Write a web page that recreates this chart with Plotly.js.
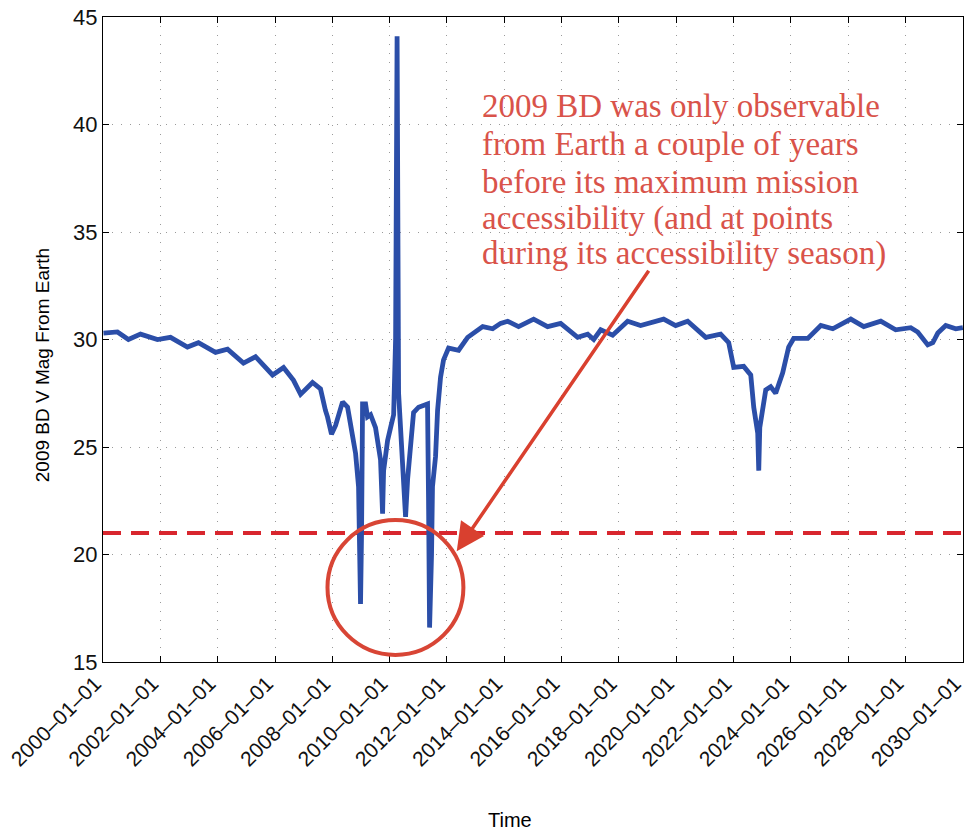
<!DOCTYPE html>
<html>
<head>
<meta charset="utf-8">
<script src="https://cdn.plot.ly/plotly-3.0.1.min.js"></script>
<style>html,body{margin:0;padding:0;background:#fff;}#chart{width:965px;height:835px;}</style>
</head>
<body>
<div id="chart"></div>
<script>
const dates = [
  "2000-01-07","2000-04-05","2000-07-03","2000-11-20","2001-04-23","2001-11-25",
  "2002-05-10","2002-12-12","2003-05-01","2003-12-05","2004-05-06","2004-11-25",
  "2005-04-28","2005-12-01","2006-04-20","2006-08-25","2006-11-23","2007-04-24",
  "2007-08-04","2007-10-06","2007-11-01","2007-12-22","2008-02-12","2008-05-11",
  "2008-07-14","2008-09-16","2008-10-24","2008-12-01","2008-12-13","2008-12-26",
  "2009-01-08","2009-01-21","2009-02-28","2009-03-25","2009-05-03","2009-07-05",
  "2009-09-07","2009-10-03","2009-10-16","2009-12-06","2010-01-13","2010-02-21",
  "2010-03-18","2010-04-06","2010-04-25","2010-05-20","2010-06-28","2010-07-23",
  "2010-08-18","2010-09-25","2010-11-02","2011-01-05","2011-04-29","2011-05-12",
  "2011-05-25","2011-06-19","2011-07-01","2011-08-09","2011-09-04","2011-10-12",
  "2011-11-19","2012-01-22","2012-05-29","2012-09-21","2013-04-01","2013-08-06",
  "2013-11-15","2014-02-13","2014-07-02","2015-01-10","2015-07-07","2015-12-20",
  "2016-07-24","2016-11-29","2017-02-14","2017-05-14","2017-10-13","2018-04-22",
  "2018-10-04","2019-07-25","2019-12-25","2020-05-26","2021-01-12","2021-07-20",
  "2021-10-31","2022-01-03","2022-05-10","2022-08-08","2022-09-15","2022-11-05",
  "2022-11-18","2022-12-01","2023-02-15","2023-04-19","2023-06-22","2023-09-19",
  "2023-12-04","2024-02-06","2024-08-04","2025-01-17","2025-06-18","2026-02-03",
  "2026-07-18","2027-02-20","2027-08-29","2028-03-08","2028-06-05","2028-10-11",
  "2028-12-14","2029-02-16","2029-05-28","2029-10-03","2030-01-01"
];
// V magnitude from Earth
const vMag = [
  30.3,30.35,30.35,30.0,30.25,30.0,
  30.1,29.65,29.85,29.4,29.55,28.9,
  29.2,28.35,28.7,28.1,27.45,28.0,
  27.7,26.7,26.4,25.6,26.0,27.1,
  26.85,25.5,24.7,23.15,21.3,17.7,
  21.0,27.0,27.0,26.4,26.5,25.9,
  24.4,21.9,23.9,25.3,25.9,26.5,
  30.0,44.1,27.5,26.1,23.15,21.75,
  23.5,25.3,26.6,26.85,27.0,22.5,
  16.6,20.0,23.15,24.55,26.7,28.25,
  29.05,29.6,29.5,30.1,30.6,30.5,
  30.75,30.85,30.6,30.95,30.6,30.75,
  30.1,30.25,30.0,30.45,30.2,30.85,
  30.65,30.95,30.65,30.85,30.1,30.25,
  29.85,28.7,28.75,28.35,26.85,25.65,
  23.9,25.9,27.65,27.8,27.5,28.45,
  29.65,30.05,30.05,30.65,30.5,30.95,
  30.6,30.85,30.45,30.55,30.35,29.75,
  29.85,30.3,30.65,30.5,30.55
];
// Observability limit
const limitMag = 21;
const limitDates = ["2000-01-01","2030-01-01"];

// Axis ticks
const xTickVals = ["2000-01-01","2002-01-01","2004-01-01","2006-01-01","2008-01-01","2010-01-01",
  "2012-01-01","2014-01-01","2016-01-01","2018-01-01","2020-01-01","2022-01-01",
  "2024-01-01","2026-01-01","2028-01-01","2030-01-01"];
const xTickText = ["2000–01–01","2002–01–01","2004–01–01","2006–01–01","2008–01–01","2010–01–01",
  "2012–01–01","2014–01–01","2016–01–01","2018–01–01","2020–01–01","2022–01–01",
  "2024–01–01","2026–01–01","2028–01–01","2030–01–01"];
const yTickVals = [15,20,25,30,35,40,45];

// Titles and note
const xTitle = "Time";
const yTitle = "2009 BD V Mag From Earth";
const noteLines = [
  "2009 BD was only observable",
  "from Earth a couple of years",
  "before its maximum mission",
  "accessibility (and at points",
  "during its accessibility season)"
];
const noteLineY = [40.85, 39.1, 37.33, 35.65, 33.98];
const noteX = "2013-02-20";
const circleX = ["2007-11-01","2012-07-29"];
const circleY = [15.33,21.6];
const arrowTip = ["2012-05-05", 20.15];

const traces = [
  {x: limitDates, y: [limitMag, limitMag], mode: "lines", type: "scatter",
   line: {color: "#D8262E", width: 4, dash: "18px,10px"}, hoverinfo: "skip"},
  {x: dates, y: vMag, mode: "lines", type: "scatter",
   line: {color: "#2B4EA8", width: 4.8}}
];

const axisCommon = {
  showline: true, linecolor: "#000", linewidth: 1, mirror: "ticks",
  ticks: "inside", ticklen: 6, tickcolor: "#000",
  showgrid: true, gridcolor: "#9a9a9a", gridwidth: 1, griddash: "1px,8px",
  zeroline: false, ticklabeloverflow: "allow"
};

const noteFont = {family: "Liberation Serif, Times New Roman, serif", size: 33, color: "#D9534A"};
const annotations = noteLines.map((t, i) => ({
  x: noteX, y: noteLineY[i], xref: "x", yref: "y", xanchor: "left", yanchor: "middle",
  align: "left", showarrow: false, text: t, font: noteFont
}));
annotations.push({x: arrowTip[0], y: arrowTip[1], xref: "x", yref: "y", text: "",
  showarrow: true, arrowhead: 2, arrowsize: 1.6, arrowwidth: 3.5, arrowcolor: "#D9402F",
  ax: 193, ay: -282});
annotations.push({x: -0.071, y: 0.46, xref: "paper", yref: "paper", text: yTitle,
  textangle: -90, showarrow: false, xanchor: "center", yanchor: "middle",
  font: {size: 19, color: "#000"}});
annotations.push({x: 0.473, y: -0.245, xref: "paper", yref: "paper", text: xTitle,
  showarrow: false, xanchor: "center", yanchor: "middle",
  font: {size: 20, color: "#000"}});

const layout = {
  width: 965, height: 835,
  margin: {l: 103, r: 2, t: 17, b: 173},
  paper_bgcolor: "#fff", plot_bgcolor: "#fff",
  showlegend: false,
  font: {family: "Liberation Sans, Arial, sans-serif", color: "#000"},
  xaxis: Object.assign({}, axisCommon, {
    type: "date", range: ["2000-01-01","2030-01-03"],
    tickmode: "array", tickvals: xTickVals, ticktext: xTickText,
    tickangle: -45, tickfont: {size: 21, color: "#111"}, ticklabelshift: -8
  }),
  yaxis: Object.assign({}, axisCommon, {
    range: [15, 45], tickmode: "array", tickvals: yTickVals,
    tickfont: {size: 22, color: "#111"}
  }),
  shapes: [
    {type: "circle", xref: "x", yref: "y",
     x0: circleX[0], x1: circleX[1], y0: circleY[0], y1: circleY[1],
     line: {color: "#D84535", width: 4}}
  ],
  annotations: annotations
};

Plotly.newPlot("chart", traces, layout, {displayModeBar: false, staticPlot: true});
</script>
</body>
</html>
